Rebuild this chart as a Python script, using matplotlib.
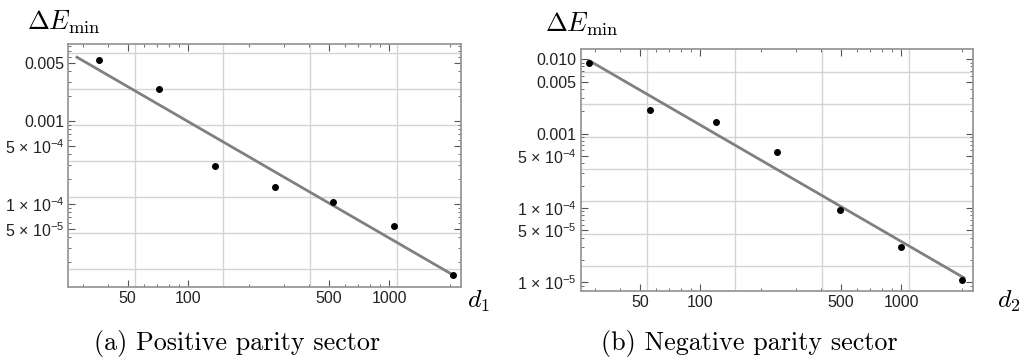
import matplotlib
matplotlib.use('Agg')
import matplotlib.pyplot as plt
import numpy as np
from matplotlib.ticker import LogLocator, NullFormatter

plt.rcParams['font.family'] = ['Liberation Sans', 'DejaVu Sans']
plt.rcParams['mathtext.fontset'] = 'custom'
plt.rcParams['mathtext.rm'] = 'Liberation Sans'
plt.rcParams['mathtext.it'] = 'Liberation Sans:italic'
plt.rcParams['mathtext.bf'] = 'Liberation Sans:bold'

d1 = [36, 72, 136, 272, 528, 1056, 2080]
gap1 = [5.48e-3, 2.45e-3, 2.92e-4, 1.61e-4, 1.05e-4, 5.41e-5, 1.39e-5]
d2 = [28, 56, 120, 240, 496, 992, 2016]
gap2 = [8.82e-3, 2.08e-3, 1.447e-3, 5.67e-4, 9.5e-5, 2.97e-5, 1.08e-5]

yticks1 = [5e-3, 1e-3, 5e-4, 1e-4, 5e-5]
ylabels1 = ['0.005', '0.001', '5 × 10$^{-4}$', '1 × 10$^{-4}$', '5 × 10$^{-5}$']
yticks2 = [1e-2, 5e-3, 1e-3, 5e-4, 1e-4, 5e-5, 1e-5]
ylabels2 = ['0.010', '0.005', '0.001', '5 × 10$^{-4}$', '1 × 10$^{-4}$',
            '5 × 10$^{-5}$', '1 × 10$^{-5}$']
xticks = [50, 100, 500, 1000]
xlabels = ['50', '100', '500', '1000']

# bereik van de fitlijn
x_fit = [28, 2050]

fig = plt.figure(figsize=(10.22, 3.58), dpi=100)
ax1 = fig.add_axes([0.0670, 0.1992, 0.3838, 0.6771])
ax2 = fig.add_axes([0.5682, 0.1880, 0.3836, 0.6751])


def panel(ax, x, y, ylim, yt, yl):
    ax.set_xscale('log')
    ax.set_yscale('log')
    ax.set_xlim(25.4, 2270)
    ax.set_ylim(*ylim)
    # rasterlijnen op e^n zoals in Mathematica
    for g in np.exp(np.arange(3, 9)):
        ax.axvline(g, color='#d4d4d4', lw=1, zorder=0)
    for g in np.exp(-np.arange(3, 13)):
        ax.axhline(g, color='#d4d4d4', lw=1, zorder=0)
    # log-log fit
    k, b = np.polyfit(np.log10(x), np.log10(y), 1)
    xf = np.array(x_fit, dtype=float)
    ax.plot(xf, 10 ** (b + k * np.log10(xf)), color='#808080', lw=2, zorder=2)
    ax.plot(x, y, 'o', color='black', ms=4, zorder=3)

    ax.set_xticks(xticks)
    ax.set_xticklabels(xlabels)
    ax.xaxis.set_minor_locator(LogLocator(base=10, subs=np.arange(2, 10)))
    ax.xaxis.set_minor_formatter(NullFormatter())
    ax.set_yticks(yt)
    ax.set_yticklabels(yl)
    ax.yaxis.set_minor_locator(LogLocator(base=10, subs=np.arange(2, 10), numticks=20))
    ax.yaxis.set_minor_formatter(NullFormatter())
    ax.tick_params(which='both', direction='in', top=True, right=True,
                   color='#555555', labelsize=11.5, labelcolor='#222222', pad=3)
    ax.tick_params(which='major', length=5, width=0.8)
    ax.tick_params(which='minor', length=2.5, width=0.6)
    for s in ax.spines.values():
        s.set_color('#999999')
        s.set_linewidth(1.3)


panel(ax1, d1, gap1, (1.01e-5, 8.5e-3), yticks1, ylabels1)
panel(ax2, d2, gap2, (7.74e-6, 1.373e-2), yticks2, ylabels2)

# aslabels en onderschriften
fig.text(27 / 1022, 1 - 30 / 358, r'$\Delta E_{\min}$', fontsize=19,
         math_fontfamily='cm', va='baseline', ha='left')
fig.text(545 / 1022, 1 - 32 / 358, r'$\Delta E_{\min}$', fontsize=19,
         math_fontfamily='cm', va='baseline', ha='left')
fig.text(467 / 1022, 1 - 308 / 358, r'$d_1$', fontsize=18.5,
         math_fontfamily='cm', va='baseline', ha='left')
fig.text(997 / 1022, 1 - 308 / 358, r'$d_2$', fontsize=18.5,
         math_fontfamily='cm', va='baseline', ha='left')
fig.text(237 / 1022, 1 - 350 / 358, '(a) Positive parity sector', fontsize=18.8,
         family='cmr10', va='baseline', ha='center')
fig.text(749.5 / 1022, 1 - 350 / 358, '(b) Negative parity sector', fontsize=18.8,
         family='cmr10', va='baseline', ha='center')

fig.savefig('out.png', dpi=100)
